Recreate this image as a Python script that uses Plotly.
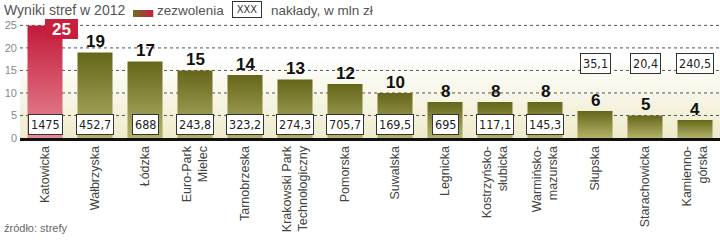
import plotly.graph_objects as go

# ---------------- data ----------------
categories = ["Katowicka", "Wałbrzyska", "Łódzka", "Euro-Park<br>Mielec", "Tarnobrzeska",
              "Krakowski Park<br>Technologiczny", "Pomorska", "Suwalska", "Legnicka",
              "Kostrzyńsko-<br>słubicka", "Warmińsko-<br>mazurska", "Słupska",
              "Starachowicka", "Kamienno-<br>górska"]
permits = [25, 19, 17, 15, 14, 13, 12, 10, 8, 8, 8, 6, 5, 4]
spending = ["1475", "452,7", "688", "243,8", "323,2", "274,3", "705,7", "169,5",
            "695", "117,1", "145,3", "35,1", "20,4", "240,5"]
y_ticks = [0, 5, 10, 15, 20, 25]
title_text = "Wyniki stref w 2012"
legend_permits = "zezwolenia"
legend_box = "XXX"
legend_spending = "nakłady, w mln zł"
source_text = "źródło: strefy"

# ---------------- layout constants ----------------
W, H = 720, 240
L, R, T, B = 20, 0, 20, 102
Y_MAX = 26.2
X0, X1 = -0.5, len(categories) - 0.5
BAR_HALF = 0.35
PW, PH = W - L - R, H - T - B

def xp(px):
    return (px - L) / PW

def yp(py):
    return (H - B - py) / PH

OLIVE_SCALE = [[0, "#b2b26a"], [1, "#66661a"]]
RED_SCALE = [[0, "#e88a98"], [1, "#c21a38"]]
FONT = "Liberation Sans, Arial, sans-serif"
BOLD = "Liberation Sans, Arial, sans-serif"
NARROW = "DejaVu Sans Condensed, Liberation Sans Narrow, Arial Narrow, sans-serif"

fig = go.Figure()

# background gradient
fig.add_trace(go.Scatter(
    x=[X0, X1, X1, X0, X0], y=[0, 0, Y_MAX, Y_MAX, 0], mode="lines",
    fill="toself", line=dict(width=0), hoverinfo="skip", showlegend=False,
    fillgradient=dict(type="vertical", start=0, stop=18,
                      colorscale=[[0, "#eeebcb"], [1, "#ffffff"]])))

# gridlines
for t in y_ticks[1:]:
    fig.add_trace(go.Scatter(
        x=[X0, X1], y=[t, t], mode="lines", hoverinfo="skip", showlegend=False,
        line=dict(color="#555555", width=1, dash="dot")))

# bars
for i, v in enumerate(permits):
    fig.add_trace(go.Scatter(
        x=[i - BAR_HALF, i + BAR_HALF, i + BAR_HALF, i - BAR_HALF, i - BAR_HALF],
        y=[0, 0, v, v, 0], mode="lines", fill="toself", line=dict(width=0),
        hoverinfo="skip", showlegend=False,
        fillgradient=dict(type="vertical", start=0, stop=v,
                          colorscale=RED_SCALE if i == 0 else OLIVE_SCALE)))

annotations = []
# value labels
for i, v in enumerate(permits):
    if i == 0:
        annotations.append(dict(
            x=i, y=v, xref="x", yref="y", text=f"<b>{v}</b>", showarrow=False,
            xanchor="left", yanchor="middle", xshift=0, yshift=-4,
            width=29, height=16, align="center",
            bgcolor="#c8203c", bordercolor="#c8203c", borderpad=1,
            font=dict(family=BOLD, size=17, color="white")))
    else:
        annotations.append(dict(
            x=i, y=v, xref="x", yref="y", text=f"<b>{v}</b>", showarrow=False,
            xanchor="center", yanchor="bottom", yshift=-1,
            font=dict(family=BOLD, size=17, color="#111111")))

# spending boxes
for i, (v, s) in enumerate(zip(permits, spending)):
    yy = 2.9 if v >= 8 else 16.6
    annotations.append(dict(
        x=i, y=yy, xref="x", yref="y", text=s, showarrow=False,
        xanchor="center", yanchor="middle",
        bgcolor="white", bordercolor="#333333", borderwidth=1, borderpad=2,
        font=dict(family=NARROW, size=12.5, color="#222222")))

# header / legend
annotations += [
    dict(x=xp(2), y=yp(10), xref="paper", yref="paper", text=title_text,
         showarrow=False, xanchor="left", yanchor="middle",
         font=dict(family=FONT, size=14, color="#555555")),
    dict(x=xp(155), y=yp(10), xref="paper", yref="paper", text=legend_permits,
         showarrow=False, xanchor="left", yanchor="middle",
         font=dict(family=FONT, size=13.5, color="#555555")),
    dict(x=xp(247), y=yp(9.5), xref="paper", yref="paper", text=legend_box,
         showarrow=False, xanchor="center", yanchor="middle",
         bgcolor="white", bordercolor="#333333", borderwidth=1, borderpad=1,
         width=26, font=dict(family=NARROW, size=11, color="#333333")),
    dict(x=xp(269), y=yp(10), xref="paper", yref="paper", text=legend_spending,
         showarrow=False, xanchor="left", yanchor="middle",
         font=dict(family=FONT, size=13.5, color="#555555")),
    dict(x=xp(2), y=yp(228), xref="paper", yref="paper", text=source_text,
         showarrow=False, xanchor="left", yanchor="middle",
         font=dict(family=FONT, size=11, color="#666666")),
]

# legend swatch (olive -> red)
shapes = []
n = 10
c0 = (110, 110, 35)
c1 = (200, 32, 60)
for k in range(n):
    f = k / (n - 1)
    col = "rgb(%d,%d,%d)" % tuple(round(a + (b - a) * f) for a, b in zip(c0, c1))
    shapes.append(dict(type="rect", xref="paper", yref="paper",
                       x0=xp(133 + 20 * k / n), x1=xp(133 + 20 * (k + 1) / n + 0.3),
                       y0=yp(17), y1=yp(10), line=dict(width=0), fillcolor=col))

fig.update_layout(
    width=W, height=H, margin=dict(l=L, r=R, t=T, b=B, pad=0),
    paper_bgcolor="white", plot_bgcolor="white", showlegend=False,
    annotations=annotations, shapes=shapes,
    xaxis=dict(range=[X0, X1], tickvals=list(range(len(categories))), ticktext=categories,
               tickangle=-90, tickfont=dict(family=FONT, size=12.5, color="#444444"),
               showline=True, linecolor="#111111", linewidth=3, ticks="",
               showgrid=False, zeroline=False, fixedrange=True),
    yaxis=dict(range=[0, Y_MAX], tickvals=y_ticks, ticks="",
               tickfont=dict(family=FONT, size=11, color="#888888"),
               showgrid=False, zeroline=False, showline=False, fixedrange=True,
               ticklabelstandoff=2),
)

fig.write_html("out.html", config={"displayModeBar": False})
